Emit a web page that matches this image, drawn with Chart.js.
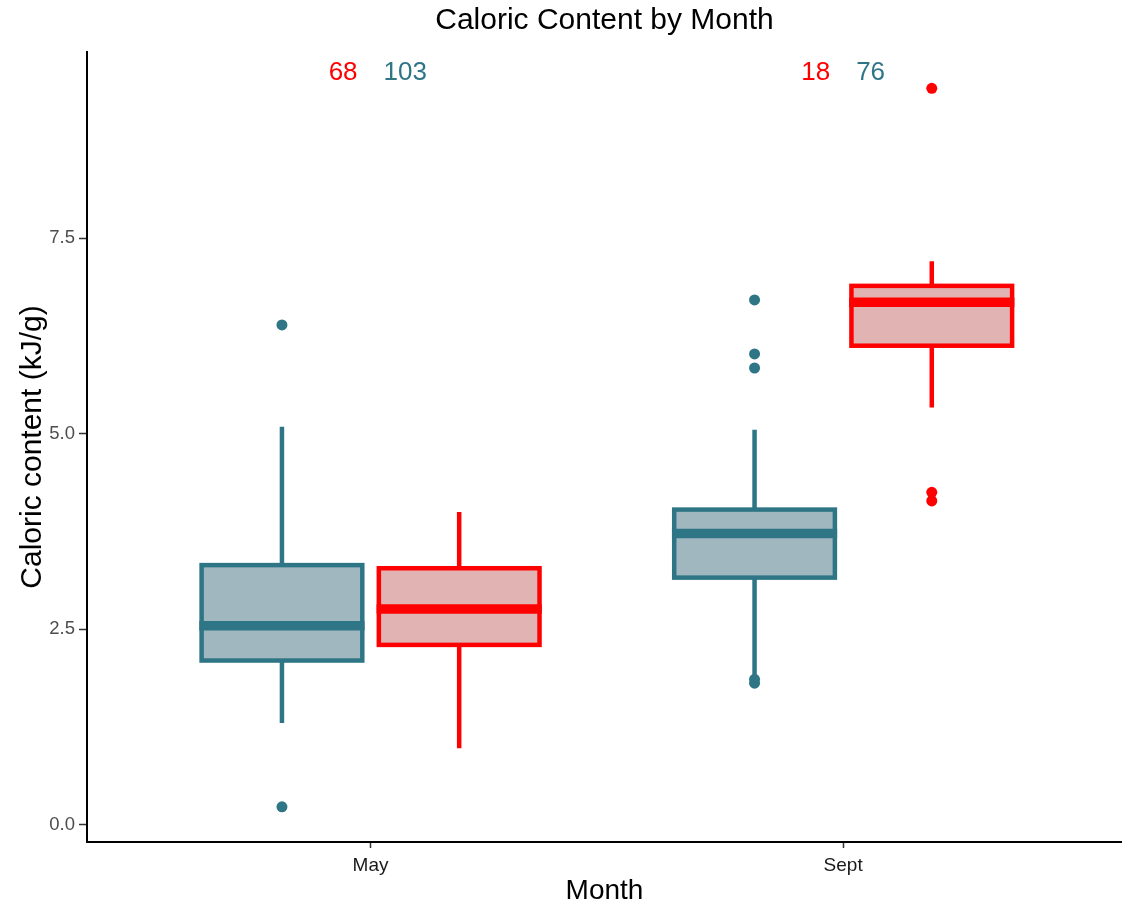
<!DOCTYPE html>
<html>
<head>
<meta charset="utf-8">
<script src="https://cdn.jsdelivr.net/npm/chart.js@4.4.1/dist/chart.umd.min.js"></script>
<style>
  html, body { margin: 0; padding: 0; background: #ffffff; overflow: hidden; }
  #wrap { width: 1122px; height: 908px; position: relative; }
  #c { display: block; }
</style>
</head>
<body>
<div id="wrap"><canvas id="c"></canvas></div>
<script>
// ---- data ----
const months = ['May', 'Sept'];
const yTickValues = [0, 2.5, 5.0, 7.5];

// blue series (left box in each month)
const blueLow    = [1.30, 1.89];
const blueQ1     = [2.10, 3.16];
const blueMedian = [2.545, 3.725];
const blueQ3     = [3.32, 4.03];
const blueHigh   = [5.09, 5.05];
const blueOutliers = [[6.39, 0.23], [6.71, 6.02, 5.84, 1.86, 1.81]];
const blueCounts = [103, 76];

// red series (right box in each month)
const redLow    = [0.98, 5.335];
const redQ1     = [2.30, 6.125];
const redMedian = [2.76, 6.68];
const redQ3     = [3.28, 6.89];
const redHigh   = [4.00, 7.205];
const redOutliers = [[], [9.415, 4.25, 4.14]];
const redCounts = [68, 18];

const countLabelY = 9.61;

// ---- styling ----
const BLUE = '#2E7686', BLUE_FILL = '#A0B7C0';
const RED = '#FF0000', RED_FILL = '#E2B3B3';
const DODGE = 0.1875, BOX_W = 0.34, LABEL_GAP = 0.0275;
const FONT = '"Liberation Sans", Arial, Helvetica, sans-serif';

const series = [
  { color: BLUE, fill: BLUE_FILL, offset: -DODGE, low: blueLow, q1: blueQ1, med: blueMedian, q3: blueQ3, high: blueHigh, out: blueOutliers },
  { color: RED,  fill: RED_FILL,  offset:  DODGE, low: redLow,  q1: redQ1,  med: redMedian,  q3: redQ3,  high: redHigh,  out: redOutliers }
];

function outlierPoints(s) {
  const pts = [];
  s.out.forEach((vals, i) => vals.forEach(v => pts.push({ x: i + 1 + s.offset, y: v })));
  return pts;
}

const boxPlugin = {
  id: 'boxes',
  beforeDatasetsDraw(chart) {
    const ctx = chart.ctx, xs = chart.scales.x, ys = chart.scales.y;
    ctx.save();
    series.forEach(s => {
      months.forEach((m, i) => {
        const cx = xs.getPixelForValue(i + 1 + s.offset);
        const xl = xs.getPixelForValue(i + 1 + s.offset - BOX_W / 2);
        const xr = xs.getPixelForValue(i + 1 + s.offset + BOX_W / 2);
        const yLow = ys.getPixelForValue(s.low[i]);
        const yQ1 = ys.getPixelForValue(s.q1[i]);
        const yMed = ys.getPixelForValue(s.med[i]);
        const yQ3 = ys.getPixelForValue(s.q3[i]);
        const yHigh = ys.getPixelForValue(s.high[i]);
        ctx.strokeStyle = s.color;
        ctx.lineCap = 'butt';
        // whiskers
        ctx.lineWidth = 4.5;
        ctx.beginPath();
        ctx.moveTo(cx, yQ3); ctx.lineTo(cx, yHigh);
        ctx.moveTo(cx, yQ1); ctx.lineTo(cx, yLow);
        ctx.stroke();
        // box
        ctx.fillStyle = s.fill;
        ctx.fillRect(xl, yQ3, xr - xl, yQ1 - yQ3);
        ctx.lineJoin = 'miter';
        ctx.strokeRect(xl, yQ3, xr - xl, yQ1 - yQ3);
        // median
        ctx.lineWidth = 9.5;
        ctx.beginPath();
        ctx.moveTo(xl - 2.25, yMed); ctx.lineTo(xr + 2.25, yMed);
        ctx.stroke();
      });
    });
    ctx.restore();
  },
  afterDatasetsDraw(chart) {
    const ctx = chart.ctx, xs = chart.scales.x, ys = chart.scales.y;
    ctx.save();
    ctx.font = '26px ' + FONT;
    ctx.textBaseline = 'middle';
    const y = ys.getPixelForValue(countLabelY);
    months.forEach((m, i) => {
      ctx.fillStyle = RED;
      ctx.textAlign = 'right';
      ctx.fillText(String(redCounts[i]), xs.getPixelForValue(i + 1 - LABEL_GAP), y);
      ctx.fillStyle = BLUE;
      ctx.textAlign = 'left';
      ctx.fillText(String(blueCounts[i]), xs.getPixelForValue(i + 1 + LABEL_GAP), y);
    });
    ctx.restore();
  }
};

new Chart(document.getElementById('c'), {
  type: 'scatter',
  data: {
    datasets: series.map(s => ({
      data: outlierPoints(s),
      backgroundColor: s.color,
      borderColor: s.color,
      pointRadius: 5.5,
      pointHoverRadius: 5.5,
      borderWidth: 0,
      clip: false
    }))
  },
  options: {
    responsive: true,
    maintainAspectRatio: false,
    animation: false,
    layout: { autoPadding: false, padding: { left: 0, right: 0, top: 0, bottom: 0 } },
    plugins: {
      legend: { display: false },
      tooltip: { enabled: false },
      title: {
        display: true,
        text: 'Caloric Content by Month',
        fullSize: false,
        color: '#000000',
        font: { family: FONT, size: 30, weight: 'normal' },
        padding: { top: 3, bottom: 13 }
      }
    },
    scales: {
      x: {
        type: 'linear',
        min: 0.4,
        max: 2.59,
        afterBuildTicks: sc => { sc.ticks = months.map((m, i) => ({ value: i + 1 })); },
        afterFit: sc => { sc.height = 66; },
        ticks: {
          callback: v => months[v - 1],
          color: '#1a1a1a',
          font: { family: FONT, size: 19 },
          padding: 6,
          maxRotation: 0
        },
        grid: { drawOnChartArea: false, tickLength: 6, color: '#333333', tickWidth: 1.5 },
        border: { display: true, color: '#000000', width: 2 },
        title: {
          display: true,
          text: 'Month',
          color: '#000000',
          font: { family: FONT, size: 28 },
          padding: { top: 0, bottom: 0 }
        }
      },
      y: {
        type: 'linear',
        min: -0.22,
        max: 9.88,
        afterBuildTicks: sc => { sc.ticks = yTickValues.map(v => ({ value: v })); },
        afterFit: sc => { sc.width = 87; },
        ticks: {
          callback: v => v.toFixed(1),
          color: '#4D4D4D',
          font: { family: FONT, size: 18.5 },
          padding: 4
        },
        grid: { drawOnChartArea: false, tickLength: 8, color: '#333333', tickWidth: 1.5 },
        border: { display: true, color: '#000000', width: 2 },
        title: {
          display: true,
          text: 'Caloric content (kJ/g)',
          color: '#000000',
          font: { family: FONT, size: 30 },
          padding: { top: 15, bottom: 0 }
        }
      }
    }
  },
  plugins: [boxPlugin]
});
</script>
</body>
</html>
